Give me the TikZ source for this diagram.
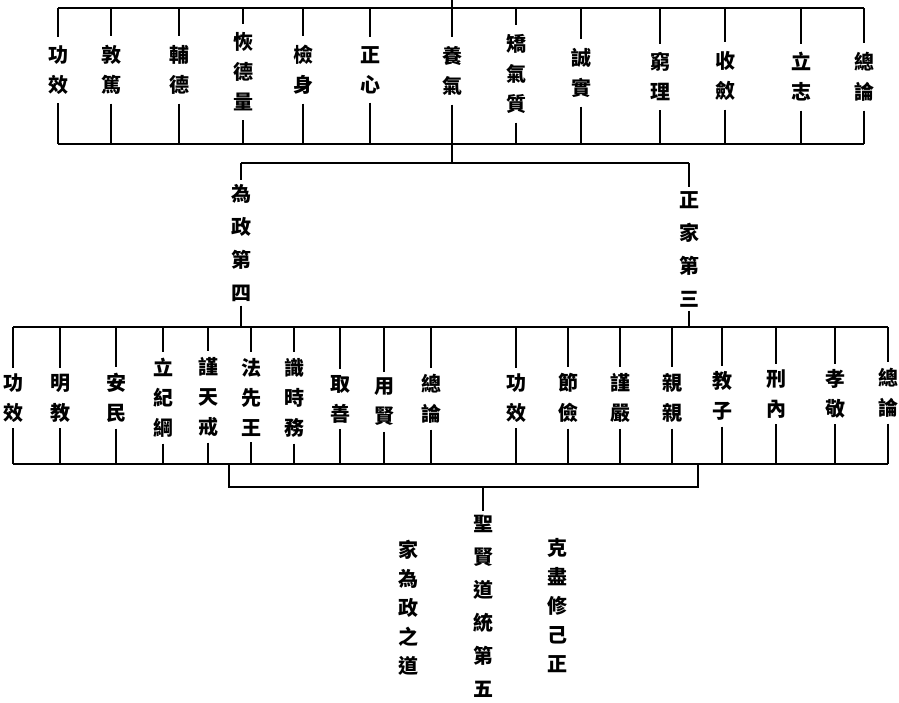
\documentclass[tikz,border=0pt]{standalone}
\usepackage{fontspec}
\newfontfamily\cjk{Noto Sans CJK TC}
\usetikzlibrary{positioning}

\begin{document}
\begin{tikzpicture}[x=1pt, y=-1pt, line width=2pt,
    main/.style = {inner sep=5pt, align=center, font=\cjk\bfseries\fontsize{20}{30}\selectfont},
    title/.style = {main, inner sep=3pt, font=\cjk\bfseries\fontsize{20}{33}\selectfont}]
    \useasboundingbox (0,0) rectangle (899,702);
    % bar heights
    \coordinate (0) at (452,0);
    \coordinate (top) at (0,8);
    \coordinate (low) at (0,144);
    \coordinate (mid) at (0,163);
    \coordinate (up) at (0,327);
    \coordinate (down) at (0,464);
    \coordinate (jl) at (229,464);
    \coordinate (jr) at (698,464);
    \coordinate (jm) at (483,487);

    % first row
    \node[main, inner sep=8pt] (1)  at (58,70)  {功\\效};
    \node[main, inner sep=8pt] (2)  at (111,70) {敦\\篤};
    \node[main, inner sep=8pt] (3)  at (179,70) {輔\\德};
    \node[main, inner sep=8pt] (4)  at (243,72) {恢\\德\\量};
    \node[main, inner sep=8pt] (5)  at (303,70) {檢\\身};
    \node[main, inner sep=8pt] (6)  at (370,70) {正\\心};
    \node[main, inner sep=8pt] (7)  at (452,71) {養\\氣};
    \node[main, inner sep=8pt] (8)  at (516,74) {矯\\氣\\質};
    \node[main, inner sep=8pt] (9)  at (581,73) {誠\\實};
    \node[main, inner sep=8pt] (10) at (660,77) {窮\\理};
    \node[main, inner sep=8pt] (11) at (725,76) {收\\斂};
    \node[main, inner sep=8pt] (12) at (801,77) {立\\志};
    \node[main, inner sep=8pt] (13) at (864,77) {總\\論};

    % second level
    \node[title] (14) at (241,243) {為\\政\\第\\四};
    \node[title] (15) at (689,249) {正\\家\\第\\三};

    % third row
    \node[main] (16) at (13,398)  {功\\效};
    \node[main] (17) at (60,398)  {明\\教};
    \node[main] (18) at (116,398) {安\\民};
    \node[main] (19) at (163,398) {立\\紀\\綱};
    \node[main] (20) at (208,397) {謹\\天\\戒};
    \node[main] (21) at (251,397) {法\\先\\王};
    \node[main] (22) at (294,398) {識\\時\\務};
    \node[main] (23) at (340,399) {取\\善};
    \node[main] (24) at (384,402) {用\\賢};
    \node[main] (25) at (431,399) {總\\論};
    \node[main] (26) at (516,398) {功\\效};
    \node[main] (27) at (568,398) {節\\儉};
    \node[main] (28) at (620,398) {謹\\嚴};
    \node[main] (29) at (672,398) {親\\親};
    \node[main] (30) at (722,396) {教\\子};
    \node[main] (31) at (776,394) {刑\\內};
    \node[main] (32) at (835,394) {孝\\敬};
    \node[main] (33) at (888,393) {總\\論};

    % bottom
    \node[title] (34) at (483,606) {聖\\賢\\道\\統\\第\\五};
    \node[main, font=\cjk\bfseries\fontsize{20}{29}\selectfont] (35) at (408,608) {家\\為\\政\\之\\道};
    \node[main, font=\cjk\bfseries\fontsize{20}{29}\selectfont] (36) at (557,606) {克\\盡\\修\\己\\正};

    % first bracket
    \draw (0) -- (7.north |- top);
    \draw (1.north |- top) -- (13.north |- top);
    \draw (1.south |- low) -- (13.south |- low);
    \draw (1.north |- top) -- (1.north) (1.south) -- (1.south |- low);
    \draw (2.north |- top) -- (2.north) (2.south) -- (2.south |- low);
    \draw (3.north |- top) -- (3.north) (3.south) -- (3.south |- low);
    \draw (4.north |- top) -- (4.north) (4.south) -- (4.south |- low);
    \draw (5.north |- top) -- (5.north) (5.south) -- (5.south |- low);
    \draw (6.north |- top) -- (6.north) (6.south) -- (6.south |- low);
    \draw (7.north |- top) -- (7.north) (7.south) -- (7.south |- low);
    \draw (8.north |- top) -- (8.north) (8.south) -- (8.south |- low);
    \draw (9.north |- top) -- (9.north) (9.south) -- (9.south |- low);
    \draw (10.north |- top) -- (10.north) (10.south) -- (10.south |- low);
    \draw (11.north |- top) -- (11.north) (11.south) -- (11.south |- low);
    \draw (12.north |- top) -- (12.north) (12.south) -- (12.south |- low);
    \draw (13.north |- top) -- (13.north) (13.south) -- (13.south |- low);

    % second bracket
    \draw (7.south |- low) -- (7.south |- mid);
    \draw (14.north |- mid) -- (15.north |- mid);
    \draw (14.north |- mid) -- (14.north) (14.south) -- (14.south |- up);
    \draw (15.north |- mid) -- (15.north) (15.south) -- (15.south |- up);

    % third bracket
    \draw (16.north |- up) -- (33.north |- up);
    \draw (16.south |- down) -- (33.south |- down);
    \draw (16.north |- up) -- (16.north) (16.south) -- (16.south |- down);
    \draw (17.north |- up) -- (17.north) (17.south) -- (17.south |- down);
    \draw (18.north |- up) -- (18.north) (18.south) -- (18.south |- down);
    \draw (19.north |- up) -- (19.north) (19.south) -- (19.south |- down);
    \draw (20.north |- up) -- (20.north) (20.south) -- (20.south |- down);
    \draw (21.north |- up) -- (21.north) (21.south) -- (21.south |- down);
    \draw (22.north |- up) -- (22.north) (22.south) -- (22.south |- down);
    \draw (23.north |- up) -- (23.north) (23.south) -- (23.south |- down);
    \draw (24.north |- up) -- (24.north) (24.south) -- (24.south |- down);
    \draw (25.north |- up) -- (25.north) (25.south) -- (25.south |- down);
    \draw (26.north |- up) -- (26.north) (26.south) -- (26.south |- down);
    \draw (27.north |- up) -- (27.north) (27.south) -- (27.south |- down);
    \draw (28.north |- up) -- (28.north) (28.south) -- (28.south |- down);
    \draw (29.north |- up) -- (29.north) (29.south) -- (29.south |- down);
    \draw (30.north |- up) -- (30.north) (30.south) -- (30.south |- down);
    \draw (31.north |- up) -- (31.north) (31.south) -- (31.south |- down);
    \draw (32.north |- up) -- (32.north) (32.south) -- (32.south |- down);
    \draw (33.north |- up) -- (33.north) (33.south) -- (33.south |- down);

    % join
    \draw (jl) -- (jl |- jm) -- (jr |- jm) -- (jr);
    \draw (jm) -- (34.north);
\end{tikzpicture}
\end{document}
